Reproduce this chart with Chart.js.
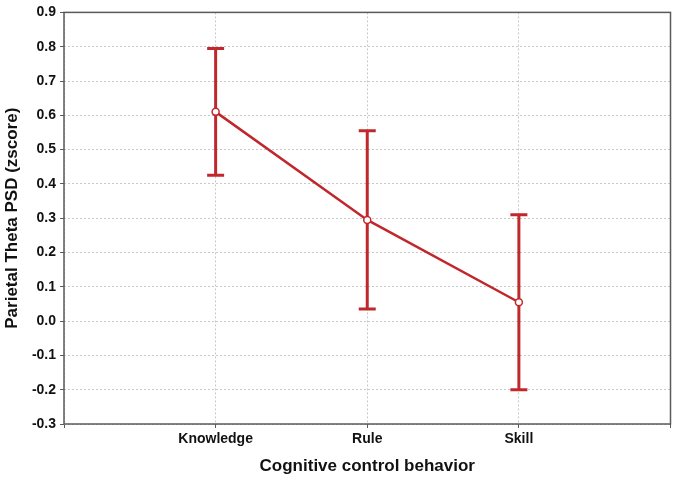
<!DOCTYPE html>
<html>
<head>
<meta charset="utf-8">
<script src="https://cdn.jsdelivr.net/npm/chart.js@4"></script>
<style>
  html, body { margin: 0; padding: 0; background: #fff; overflow: hidden; }
  canvas { display: block; }
</style>
</head>
<body>
<!-- canvas is a little wider than the window so the plot box reaches the right edge like the original -->
<canvas id="chart" width="682" height="480"></canvas>
<script>
// Data
const categories = ['Knowledge', 'Rule', 'Skill'];
const meanValues = [0.61, 0.295, 0.055];
const upperValues = [0.795, 0.555, 0.31];
const lowerValues = [0.425, 0.035, -0.2];
const yTicks = [-0.3, -0.2, -0.1, 0.0, 0.1, 0.2, 0.3, 0.4, 0.5, 0.6, 0.7, 0.8, 0.9];

const RED = '#c0282d';

// category i sits at x = i + 1 on a 0..4 axis
const catX = categories.map((c, i) => i + 1);

const datasets = [];

// Error bars (vertical line + caps drawn as 'line' point style)
catX.forEach((x, i) => {
    datasets.push({
        label: 'err ' + categories[i],
        data: [{ x: x, y: lowerValues[i] }, { x: x, y: upperValues[i] }],
        borderColor: RED,
        borderWidth: 3,
        pointStyle: 'line',
        pointRadius: 8.5,
        pointBorderWidth: 3,
        pointBorderColor: RED,
        pointHoverRadius: 8.5,
        order: 2
    });
});

// Mean line
datasets.push({
    label: 'mean',
    data: catX.map((x, i) => ({ x: x, y: meanValues[i] })),
    borderColor: RED,
    borderWidth: 2.5,
    pointStyle: 'circle',
    pointRadius: 3.5,
    pointBackgroundColor: '#ffffff',
    pointBorderColor: RED,
    pointBorderWidth: 1.5,
    order: 1
});

// Draw the box around the plot area
const frame = {
    id: 'frame',
    afterDatasetsDraw(chart) {
        const a = chart.chartArea;
        const ctx = chart.ctx;
        ctx.save();
        ctx.strokeStyle = '#5a5a5a';
        ctx.lineWidth = 1.5;
        ctx.strokeRect(a.left, a.top, a.right - a.left, a.bottom - a.top);
        ctx.restore();
    }
};

const tickFont = { family: 'Liberation Sans, Arial, sans-serif', size: 14, weight: 'bold' };
const titleFont = { family: 'Liberation Sans, Arial, sans-serif', size: 17, weight: 'bold' };

new Chart(document.getElementById('chart'), {
    type: 'line',
    data: { datasets: datasets },
    options: {
        responsive: false,
        animation: false,
        layout: { padding: { left: 0, right: 5, top: 10, bottom: 0 } },
        plugins: {
            legend: { display: false },
            tooltip: { enabled: false }
        },
        scales: {
            x: {
                type: 'linear',
                min: 0,
                max: 4,
                afterBuildTicks: (scale) => {
                    scale.ticks = [0, 1, 2, 3, 4].map(v => ({ value: v }));
                },
                afterFit: (scale) => {
                    scale.height = 56;
                },
                ticks: {
                    callback: (v) => categories[v - 1] || '',
                    color: '#111',
                    font: tickFont,
                    padding: 3,
                    maxRotation: 0,
                    autoSkip: false
                },
                grid: {
                    color: '#c8c8c8',
                    lineWidth: 1,
                    tickLength: 4,
                    tickColor: '#5a5a5a'
                },
                border: { display: false, dash: [2, 2] },
                title: {
                    display: true,
                    text: 'Cognitive control behavior',
                    color: '#111',
                    font: titleFont,
                    padding: { top: 0, bottom: 3 }
                }
            },
            y: {
                min: -0.3,
                max: 0.9,
                afterBuildTicks: (scale) => {
                    scale.ticks = yTicks.map(v => ({ value: v }));
                },
                afterFit: (scale) => { scale.width = 64; },
                ticks: {
                    callback: (v) => v.toFixed(1),
                    color: '#111',
                    font: tickFont,
                    padding: 4
                },
                grid: {
                    color: '#c8c8c8',
                    lineWidth: 1,
                    tickLength: 4,
                    tickColor: '#5a5a5a'
                },
                border: { display: false, dash: [2, 2] },
                title: {
                    display: true,
                    text: 'Parietal Theta PSD (zscore)',
                    color: '#111',
                    font: titleFont,
                    padding: { top: 2, bottom: 0 }
                }
            }
        }
    },
    plugins: [frame]
});
</script>
</body>
</html>
